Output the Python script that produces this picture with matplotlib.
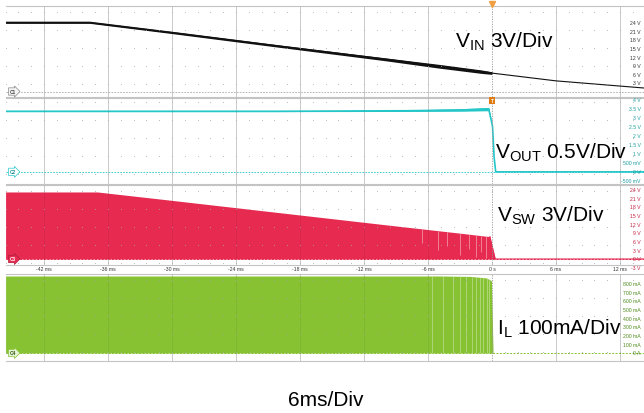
import numpy as np
import matplotlib.pyplot as plt
import matplotlib.transforms as mtransforms

plt.rcParams['font.family'] = ['Liberation Sans', 'DejaVu Sans']
plt.rcParams['mathtext.fontset'] = 'custom'
plt.rcParams['mathtext.rm'] = 'Liberation Sans'

W, H = 644, 414

# time axis (ms)
t_min, t_max = -45.56, 14.25
tick_t = [-42, -36, -30, -24, -18, -12, -6, 0, 6, 12]
tick_lbl = ['-42 ms', '-36 ms', '-30 ms', '-24 ms', '-18 ms', '-12 ms',
            '-6 ms', '0 s', '6 ms', '12 ms']

# CH1: VIN (V)
vin_t = [-45.6, -37.7, -30, -20, -10, -5, -1, 0]
vin_v = [24.0, 24.0, 20.5, 15.8, 11.2, 8.8, 6.9, 6.4]
vin_rip = [0.3, 0.3, 0.35, 0.4, 0.5, 0.65, 0.6, 0.45]
vin_after_t = [0, 6, 14.3]
vin_after_v = [6.4, 3.7, 1.2]
ch1_lbl_v = [24, 21, 18, 15, 12, 9, 6, 3]
ch1_lbl = ['24 V', '21 V', '18 V', '15 V', '12 V', '9 V', '6 V', '3 V']

# CH2: VOUT (V)
vout_t = [-45.6, -20, -8, -3, -0.3, 0.05, 0.2, 0.35, 14.3]
vout_v = [3.33, 3.33, 3.36, 3.4, 3.45, 2.5, 0.8, 0.0, 0.0]
vout_rip = [0.02, 0.02, 0.04, 0.07, 0.09, 0.0, 0.0, 0.0, 0.0]
ch2_lbl_v = [4, 3.5, 3, 2.5, 2, 1.5, 1, 0.5, 0, -0.5]
ch2_lbl = ['4 V', '3.5 V', '3 V', '2.5 V', '2 V', '1.5 V', '1 V',
           '500 mV', '0 V', '-500 mV']

# CH3: VSW envelope (V)
vsw_t = [-45.6, -37, -30, -20, -10, -3, -0.2, 0.3, 14.3]
vsw_top = [23.1, 23.1, 20.2, 16.0, 11.8, 8.9, 7.7, 0.0, 0.0]
vsw_gap_t = [-6.6, -5.1, -4.2, -3.0, -2.2, -1.5, -1.0, -0.6]
vsw_gap_lo = [5.5, 3.0, 4.5, 1.5, 3.5, 0.8, 2.5, 0.5]
ch3_lbl_v = [24, 21, 18, 15, 12, 9, 6, 3, 0, -3]
ch3_lbl = ['24 V', '21 V', '18 V', '15 V', '12 V', '9 V', '6 V', '3 V',
           '0 V', '-3 V']

# CH4: IL envelope (mA)
il_t = [-45.6, -5, -2, -0.5, -0.05, 0.1, 14.3]
il_top = [885, 885, 880, 862, 830, 0, 0]
il_gap_t = [-5.6, -4.6, -3.7, -3.0, -2.4, -1.9, -1.5, -1.1, -0.8, -0.5, -0.25]
ch4_lbl_v = [800, 700, 600, 500, 400, 300, 200, 100, 0]
ch4_lbl = ['800 mA', '700 mA', '600 mA', '500 mA', '400 mA', '300 mA',
           '200 mA', '100 mA', '0 A']

c_vin = '#111111'
c_vout = '#25c6c8'
c_vsw = '#e62a50'
c_il = '#86c232'
c_grid = '#d0d0d0'

fig = plt.figure(figsize=(W / 100, H / 100), dpi=100)


def panel(top, bottom, ylim, rows):
    ax = fig.add_axes([6 / W, 1 - bottom / H, (W - 6) / W, (bottom - top) / H])
    ax.set_xlim(t_min, t_max)
    ax.set_ylim(*ylim)
    ax.set_xticks([])
    ax.set_yticks([])
    for s in ['left', 'right']:
        ax.spines[s].set_visible(False)
    for s in ['top', 'bottom']:
        ax.spines[s].set_color('#c4c4c4')
        ax.spines[s].set_linewidth(0.8)
    # grid
    for t in tick_t:
        if t == 0:
            ax.axvline(t, color='#999999', lw=0.6, ls=(0, (1.5, 1.5)), zorder=4)
        else:
            ax.axvline(t, color=c_grid, lw=0.6, zorder=0.5)
            ax.axvline(t, color='#000000', lw=0.5, alpha=0.08, zorder=4)
    tr = mtransforms.blended_transform_factory(ax.transData, ax.transAxes)
    xs = np.arange(-45.6, t_max, 1.2)
    gx, gy = np.meshgrid(xs, rows)
    ax.scatter(gx.ravel(), gy.ravel(), s=0.4, color='#a8a8a8', lw=0,
               transform=tr, zorder=4, alpha=0.8)
    return ax


def tag(ax, text, fc, ec, tc):
    ax.text(t_min + 0.35, 0, text, fontsize=3.4, color=tc, va='center',
            ha='left', zorder=6, fontweight='bold',
            bbox=dict(boxstyle='rarrow,pad=0.25', fc=fc, ec=ec, lw=0.5))


def right_labels(ax, vals, labels, color):
    tr = mtransforms.blended_transform_factory(ax.transAxes, ax.transData)
    for v, l in zip(vals, labels):
        ax.text(0.9945, v, l, transform=tr, ha='right', va='center',
                fontsize=3.7, color=color, zorder=6, clip_on=False)


def frac_rows(top, bottom, first):
    ys = np.arange(first, bottom, 17.9)
    return (bottom - ys) / (bottom - top)


# ---- CH1
ax1 = panel(7, 98, (-1.91, 29.74), frac_rows(7, 98, 13))
ax1.axhline(0, color='#aaaaaa', lw=0.6, ls=(0, (2, 1.5)), zorder=2)
vin_lo = np.array(vin_v) - np.array(vin_rip)
vin_hi = np.array(vin_v) + np.array(vin_rip)
ax1.fill_between(vin_t, vin_lo, vin_hi, color=c_vin, lw=0, zorder=3)
ax1.plot(vin_t, vin_v, color=c_vin, lw=1.2, zorder=3)
ax1.plot(vin_after_t, vin_after_v, color=c_vin, lw=0.8, zorder=3)
tag(ax1, 'C1', '#f4f4f4', '#888888', '#444444')
right_labels(ax1, ch1_lbl_v, ch1_lbl, '#333333')

# ---- CH2
ax2 = panel(99, 185, (-0.667, 4.06), frac_rows(99, 185, 103))
ax2.axhline(0, color=c_vout, lw=0.6, ls=(0, (2, 1.5)), zorder=2)
vout_lo = np.array(vout_v) - np.array(vout_rip)
vout_hi = np.array(vout_v) + np.array(vout_rip)
ax2.fill_between(vout_t, vout_lo, vout_hi, color=c_vout, lw=0, zorder=3)
ax2.plot(vout_t, vout_v, color=c_vout, lw=1.2, zorder=3)
tag(ax2, 'C2', 'white', c_vout, '#1a8f90')
right_labels(ax2, ch2_lbl_v, ch2_lbl, '#1a9c9e')

# ---- CH3
ax3 = panel(186, 266, (-2.07, 25.5), frac_rows(186, 266, 192))
ax3.axhline(0, color=c_vsw, lw=0.7, ls=(0, (2, 1.5)), zorder=2)
ax3.fill_between(vsw_t, 0, vsw_top, color=c_vsw, lw=0, zorder=3)
ax3.plot(vsw_t[-3:], vsw_top[-3:], color=c_vsw, lw=0.8, zorder=3)
gap_hi = np.interp(vsw_gap_t, vsw_t, vsw_top)
ax3.vlines(vsw_gap_t, vsw_gap_lo, gap_hi, color='#f4a3b3', lw=0.5, zorder=3.5)
tag(ax3, 'C3', c_vsw, '#b01d3c', 'white')
right_labels(ax3, ch3_lbl_v, ch3_lbl, '#c4203f')

# ---- CH4
ax4 = panel(275, 362, (-92, 908), frac_rows(275, 362, 281))
ax4.axhline(0, color=c_il, lw=0.7, ls=(0, (2, 1.5)), zorder=2)
ax4.fill_between(il_t, 0, il_top, color=c_il, lw=0, zorder=3)
il_gap_hi = np.interp(il_gap_t, il_t, il_top)
ax4.vlines(il_gap_t, 0, il_gap_hi, color='#c4e39a', lw=0.45, zorder=3.5)
tag(ax4, 'C4', '#e7f3d5', c_il, '#2d5a10')
right_labels(ax4, ch4_lbl_v, ch4_lbl, '#4d8a1a')

# time labels in the strip between CH3 and CH4
for t, l in zip(tick_t, tick_lbl):
    ax3.text(t, -3.3, l, ha='center', va='center', fontsize=3.7,
             color='#333333', clip_on=False, zorder=6)

# trigger markers
ax2.text(0, 4.06, 'T', ha='center', va='top', fontsize=3.5, color='white',
         fontweight='bold', zorder=7, clip_on=False,
         bbox=dict(boxstyle='square,pad=0.25', fc='#e07b12', ec='none'))
ax1.plot([0], [30.6], marker='v', ms=4.5, color='#f0a040', zorder=7,
         clip_on=False)

# big annotations
fig.text(455 / W, 1 - 42 / H, r'V$_{\mathrm{IN}}$ 3V/Div', fontsize=15,
         va='center', ha='left')
fig.text(495 / W, 1 - 153 / H, r'V$_{\mathrm{OUT}}$ 0.5V/Div', fontsize=15,
         va='center', ha='left')
fig.text(497 / W, 1 - 216 / H, r'V$_{\mathrm{SW}}$ 3V/Div', fontsize=15,
         va='center', ha='left')
fig.text(497 / W, 1 - 329 / H, r'I$_{\mathrm{L}}$ 100mA/Div', fontsize=15,
         va='center', ha='left')
fig.text(326 / W, 1 - 401 / H, '6ms/Div', fontsize=15, va='center',
         ha='center')

fig.savefig('out.png', dpi=100)
